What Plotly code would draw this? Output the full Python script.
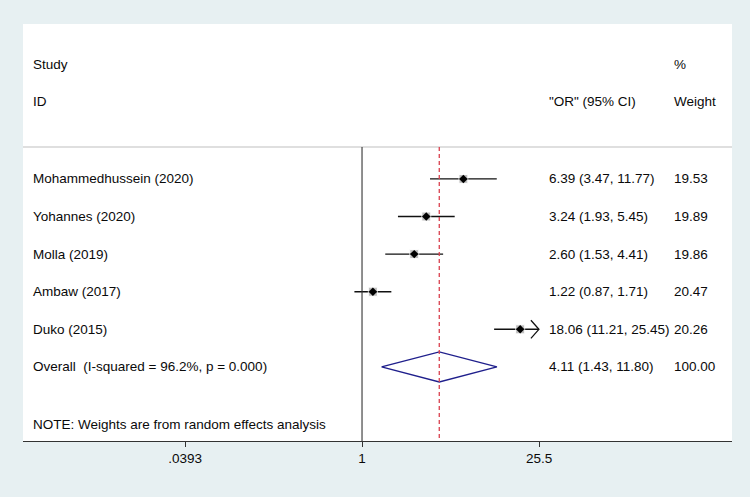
import math
import plotly.graph_objects as go

# ---------------- data ----------------
studies = ["Mohammedhussein (2020)", "Yohannes (2020)", "Molla (2019)", "Ambaw (2017)", "Duko (2015)"]
or_est = [6.39, 3.24, 2.60, 1.22, 18.06]
or_lo = [3.47, 1.93, 1.53, 0.87, 11.21]
or_hi = [11.77, 5.45, 4.41, 1.71, 25.45]
weights = [19.53, 19.89, 19.86, 20.47, 20.26]

overall_label = "Overall  (I-squared = 96.2%, p = 0.000)"
overall_est = 4.11
overall_lo = 1.43
overall_hi = 11.80
overall_weight = 100.00

note_text = "NOTE: Weights are from random effects analysis"
tick_vals = [0.0393, 1, 25.5]
tick_text = [".0393", "1", "25.5"]
axis_max = 25.5

# ---------------- layout constants ----------------
FONT = "Liberation Sans, Arial, Helvetica, sans-serif"
FS = 13.5
TXT = "#0a0a0a"
BG = "#e7f0f2"
row_y = list(range(len(studies)))
overall_y = len(studies)
note_y = 6.54
header1_y = -3.03
header2_y = -2.05
line_y = -0.85
y_bottom, y_top = 6.97, -4.12
col_study, col_or, col_w = 0.0113, 0.739, 0.9154

fig = go.Figure()

# CI lines
for i in range(len(studies)):
    hi = min(or_hi[i], axis_max)
    fig.add_trace(go.Scatter(x=[or_lo[i], hi], y=[row_y[i], row_y[i]], mode="lines",
                             line=dict(color="#111111", width=1.4), hoverinfo="skip"))

# arrow (open chevron) for truncated CI (Duko)
for i in range(len(studies)):
    if or_hi[i] >= axis_max * 0.99:
        tip = or_hi[i]
        back = tip * math.exp(-8 / 54.6)
        fig.add_trace(go.Scatter(x=[back, tip, back], y=[row_y[i] - 0.24, row_y[i], row_y[i] + 0.24],
                                 mode="lines", line=dict(color="#111111", width=1.3), hoverinfo="skip"))

# weight boxes
fig.add_trace(go.Scatter(x=or_est, y=row_y, mode="markers",
                         marker=dict(symbol="square", color="#a5a5a5",
                                     size=[9 * math.sqrt(w / 20) for w in weights]),
                         hoverinfo="skip"))
# point estimates
fig.add_trace(go.Scatter(x=or_est, y=row_y, mode="markers",
                         marker=dict(symbol="diamond", color="#000000", size=6.5), hoverinfo="skip"))

# overall diamond
h = 0.4
fig.add_trace(go.Scatter(x=[overall_lo, overall_est, overall_hi, overall_est, overall_lo],
                         y=[overall_y, overall_y - h, overall_y, overall_y + h, overall_y],
                         mode="lines", line=dict(color="#1f1f8c", width=1.4), hoverinfo="skip"))

# reference lines
shapes = [
    dict(type="line", xref="paper", yref="y", x0=0, x1=1, y0=line_y, y1=line_y,
         line=dict(color="#d4d4d4", width=1.5)),
    dict(type="line", xref="x", yref="y", x0=1, x1=1, y0=line_y, y1=y_bottom,
         line=dict(color="#333333", width=1.1)),
    dict(type="line", xref="x", yref="y", x0=overall_est, x1=overall_est, y0=line_y, y1=y_bottom,
         line=dict(color="#d9404e", width=1.3, dash="4px,3px")),
]

ann = []
def add_text(x, y, t):
    ann.append(dict(x=x, y=y, xref="paper", yref="y", text=t, showarrow=False,
                    xanchor="left", yanchor="middle", font=dict(family=FONT, size=FS, color=TXT)))

add_text(col_study, header1_y, "Study")
add_text(col_study, header2_y, "ID")
add_text(col_or, header2_y, "\"OR\" (95% CI)")
add_text(col_w, header1_y, "%")
add_text(col_w, header2_y, "Weight")
for i in range(len(studies)):
    add_text(col_study, row_y[i], studies[i])
    add_text(col_or, row_y[i], f"{or_est[i]:.2f} ({or_lo[i]:.2f}, {or_hi[i]:.2f})")
    add_text(col_w, row_y[i], f"{weights[i]:.2f}")
add_text(col_study, overall_y, overall_label)
add_text(col_or, overall_y, f"{overall_est:.2f} ({overall_lo:.2f}, {overall_hi:.2f})")
add_text(col_w, overall_y, f"{overall_weight:.2f}")
add_text(col_study, note_y, note_text)

fig.update_layout(
    width=750, height=497,
    margin=dict(l=23, r=18, t=24, b=56),
    paper_bgcolor=BG, plot_bgcolor="#ffffff",
    showlegend=False, shapes=shapes, annotations=ann,
    font=dict(family=FONT, size=FS, color=TXT),
    xaxis=dict(type="log", range=[-2.694, 2.940], tickvals=tick_vals, ticktext=tick_text,
               showgrid=False, zeroline=False, showline=True, linecolor="#333333", linewidth=1.2,
               ticks="outside", ticklen=5, tickcolor="#333333",
               tickfont=dict(family=FONT, size=FS, color=TXT)),
    yaxis=dict(range=[y_bottom, y_top], showgrid=False, zeroline=False, showticklabels=False,
               showline=False, fixedrange=True),
)

fig.write_html("out.html",
               config={"displayModeBar": False},
               post_script="document.body.style.margin='0';document.body.style.background='%s';"
                           "document.body.style.overflow='hidden';" % BG)
